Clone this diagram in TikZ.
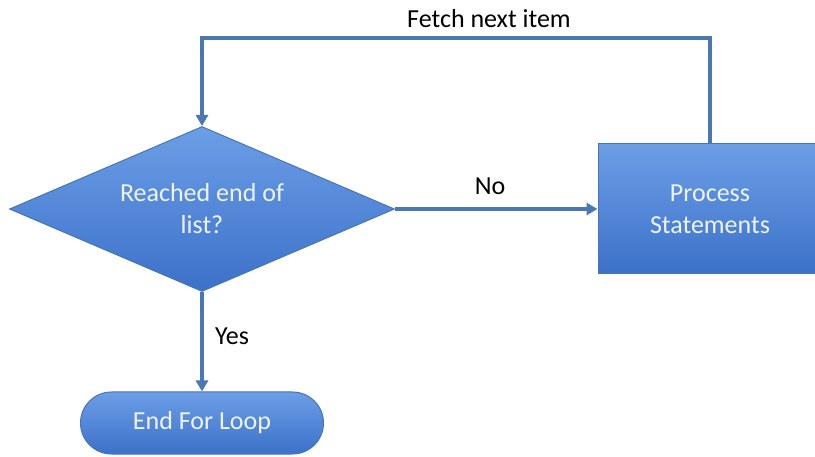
\documentclass[tikz,border=0pt]{standalone}
\usepackage{fontspec}
\setmainfont{Carlito}
\usetikzlibrary{shapes.geometric,arrows.meta}
\definecolor{flowtop}{HTML}{6C9EE6}
\definecolor{flowbot}{HTML}{3C71C9}
\definecolor{flowedge}{HTML}{4676B8}
\definecolor{flowline}{HTML}{4A78B4}
\definecolor{flowtext}{HTML}{EEF3FC}

\begin{document}
\begin{tikzpicture}[x=1pt,y=-1pt,
	flowshape/.style={draw=flowedge,line width=1pt,top color=flowtop,bottom color=flowbot,text=flowtext,align=center,font=\fontsize{26}{32}\selectfont},
	decision/.style={flowshape,diamond,inner sep=0pt,aspect=2.33,minimum width=385pt,minimum height=165pt},
	process/.style={flowshape,rectangle,minimum width=224pt,minimum height=130pt},
	terminal/.style={flowshape,rectangle,rounded corners=31pt,minimum width=243pt,minimum height=62pt},
	flow/.style={draw=flowline,line width=3.4pt,-{Triangle[length=11pt,width=12pt]}},
	label/.style={font=\fontsize{26}{30}\selectfont,text=black}]
	\fill[white] (0,0) rectangle (815,457);
	\useasboundingbox (0,0) rectangle (815,457);
	\clip (0,0) rectangle (815,457);
	\node[decision](check) at (202,209){Reached end of\\list?};
	\node[process](proc) at (710,209){Process\\Statements};
	\node[terminal](stop) at (202,423){End For Loop};
	\coordinate (turn) at (202,38);
	\draw[flow] (check.east) -- (proc.west);
	\draw[flow] (proc.north) |- (turn) -- (check.north);
	\draw[flow] (check.south) -- (stop.north);
	\node[label](nolbl) at (490,186){No};
	\node[label](yeslbl) at (232,336){Yes};
	\node[label](fetchlbl) at (489,19){Fetch next item};
\end{tikzpicture}
\end{document}
